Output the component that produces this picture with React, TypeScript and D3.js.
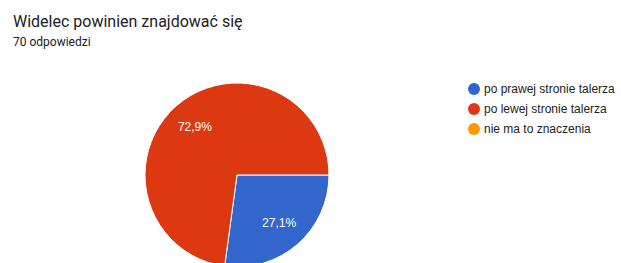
import React from "react";
import * as d3 from "d3";

const categories = ["po prawej stronie talerza", "po lewej stronie talerza", "nie ma to znaczenia"];
const counts = [19, 51, 0];
const colors = ["#3366cc", "#dc3912", "#ff9900"];
const labels = ["27,1%", "72,9%", ""];
const title = "Widelec powinien znajdować się";
const subtitle = "70 odpowiedzi";

export default function App() {
  const W = 621, H = 263;
  const cx = 237, cy = 175, r = 92;
  const pie = d3.pie<number>().sort(null).value(d => d).startAngle(Math.PI / 2).endAngle(Math.PI / 2 + 2 * Math.PI);
  const arcs = pie(counts);
  const arc = d3.arc<d3.PieArcDatum<number>>().innerRadius(0).outerRadius(r);
  const labelArc = d3.arc<d3.PieArcDatum<number>>().innerRadius(64).outerRadius(64);
  const chartFont = "Arial, 'Liberation Sans', sans-serif";
  return (
    <div style={{ position: "absolute", left: 0, top: 0 }}>
      <svg width={W} height={H} style={{ display: "block", fontFamily: "Roboto, Arial, sans-serif" }}>
        <rect width={W} height={H} fill="#fff" />
        <text x={13} y={27} fontSize={16} fill="#202124">{title}</text>
        <text x={13} y={46} fontSize={12} fill="#202124">{subtitle}</text>
        <g transform={`translate(${cx},${cy})`}>
          {arcs.map((a, i) => a.value > 0 ? (
            <path key={i} d={arc(a) || ""} fill={colors[i]} stroke="#fff" strokeWidth={1} />
          ) : null)}
          {arcs.map((a, i) => a.value > 0 ? (
            <text key={"l" + i} transform={`translate(${labelArc.centroid(a)})`} textAnchor="middle" dy="0.35em" fontSize={12} fontFamily={chartFont} fill="#fff">{labels[i]}</text>
          ) : null)}
        </g>
        <g>
          {categories.map((c, i) => (
            <g key={c} transform={`translate(474,${89 + i * 20})`}>
              <circle r={6} fill={colors[i]} />
              <text x={10} dy="0.35em" fontSize={12} fontFamily={chartFont} fill="#222">{c}</text>
            </g>
          ))}
        </g>
      </svg>
    </div>
  );
}
